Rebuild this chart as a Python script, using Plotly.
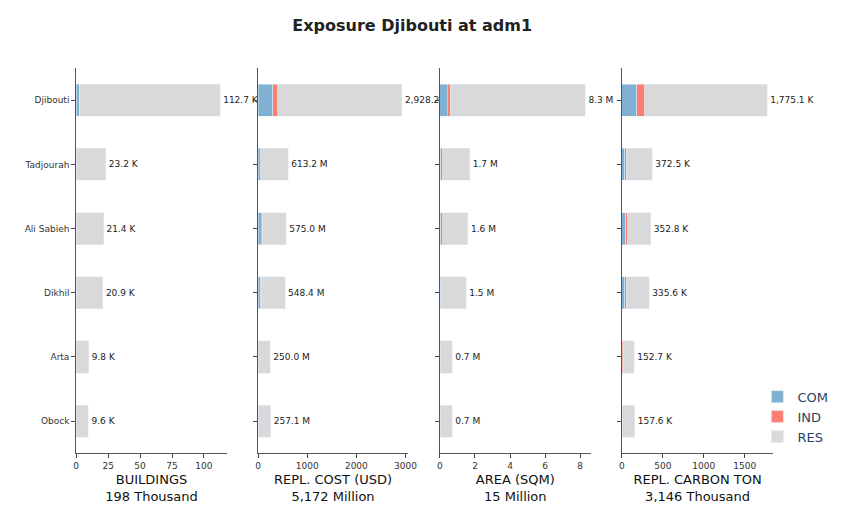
import plotly.graph_objects as go

regions = ['Djibouti', 'Tadjourah', 'Ali Sabieh', 'Dikhil', 'Arta', 'Obock']

# buildings (thousand)
bld_total = [112.7, 23.2, 21.4, 20.9, 9.8, 9.6]
bld_com = [2.6, 0.3, 0.3, 0.3, 0.1, 0.1]
bld_ind = [0.3, 0.05, 0.05, 0.05, 0.02, 0.02]

# replacement cost (million USD)
cost_total = [2928.2, 613.2, 575.0, 548.4, 250.0, 257.1]
cost_com = [300, 50, 60, 55, 5, 15]
cost_ind = [100, 25, 25, 12, 3, 3]

# area (million sqm)
area_total = [8.3, 1.7, 1.6, 1.5, 0.7, 0.7]
area_com = [0.42, 0.05, 0.05, 0.05, 0.01, 0.02]
area_ind = [0.18, 0.1, 0.1, 0.02, 0.01, 0.01]

# carbon (thousand ton)
carb_total = [1775.1, 372.5, 352.8, 335.6, 152.7, 157.6]
carb_com = [180, 35, 45, 35, 5, 10]
carb_ind = [100, 20, 25, 20, 10, 3]

panels = [
    (bld_com, bld_ind, bld_total, 'BUILDINGS<br>198 Thousand', ' K', '{:,.1f}', [0, 118], [0, 25, 50, 75, 100]),
    (cost_com, cost_ind, cost_total, 'REPL. COST (USD)<br>5,172 Million', ' M', '{:,.1f}', [0, 3050], [0, 1000, 2000, 3000]),
    (area_com, area_ind, area_total, 'AREA (SQM)<br>15 Million', ' M', '{:,.1f}', [0, 8.6], [0, 2, 4, 6, 8]),
    (carb_com, carb_ind, carb_total, 'REPL. CARBON TON<br>3,146 Thousand', ' K', '{:,.1f}', [0, 1850], [0, 500, 1000, 1500]),
]
domains = [(0.081, 0.260), (0.297, 0.475), (0.513, 0.692), (0.729, 0.909)]
colors = {'COM': '#80b1d3', 'IND': '#fb8072', 'RES': '#d9d9d9'}

fig = go.Figure()
layout = {}
for i, (com, ind, tot, title, unit, fmt, rng, ticks) in enumerate(panels):
    n = '' if i == 0 else str(i + 1)
    res = [t - c - d for t, c, d in zip(tot, com, ind)]
    for name, vals in [('COM', com), ('IND', ind), ('RES', res)]:
        fig.add_trace(go.Bar(
            y=regions, x=vals, orientation='h', name=name,
            marker_color=colors[name], width=0.5,
            xaxis='x' + n, yaxis='y' + n,
            legendgroup=name, showlegend=(i == 0),
            text=[fmt.format(t) + unit for t in tot] if name == 'RES' else None,
            textposition='outside' if name == 'RES' else 'none',
            textfont=dict(size=9, color='#222'), cliponaxis=False,
            hoverinfo='x+y+name',
        ))
    layout['xaxis' + n] = dict(
        domain=domains[i], anchor='y' + n, range=rng, tickvals=ticks,
        showline=True, linecolor='#555', ticks='outside', ticklen=4,
        showgrid=False, zeroline=False, tickfont=dict(size=9, color='#333'),
        title=dict(text=title, font=dict(size=13, color='#111'), standoff=4),
    )
    layout['yaxis' + n] = dict(
        domain=[0.127, 0.882], anchor='x' + n, autorange='reversed',
        categoryorder='array', categoryarray=regions,
        showline=True, linecolor='#555', ticks='outside', ticklen=4,
        showgrid=False, showticklabels=(i == 0), tickfont=dict(size=9, color='#333'),
    )

fig.update_layout(
    barmode='stack', width=842, height=510,
    margin=dict(l=0, r=0, t=0, b=0, autoexpand=False),
    plot_bgcolor='white', paper_bgcolor='white',
    font=dict(family='DejaVu Sans'),
    title=dict(text='<b>Exposure Djibouti at adm1</b>', x=0.48, xanchor='center',
               y=0.965, yanchor='middle', font=dict(size=16, color='#222')),
    legend=dict(x=0.89, y=0.13, xanchor='left', yanchor='bottom', font=dict(size=13),
                traceorder='normal'),
    bargap=0.5,
    **layout,
)

fig.write_html("out.html")
